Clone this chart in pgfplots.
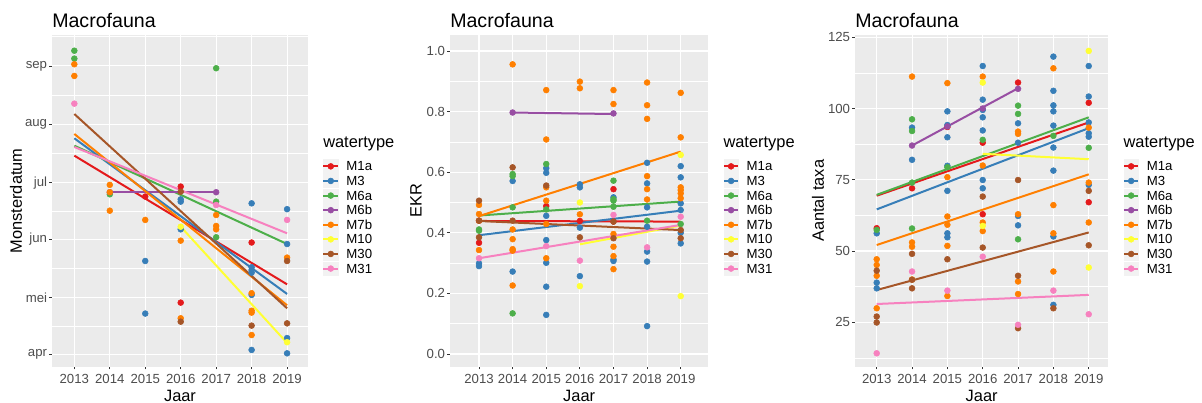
\documentclass[border=0pt]{standalone}
\usepackage{fontspec}
\setmainfont{Liberation Sans}
\usepackage{pgfplots}
\pgfplotsset{compat=1.18}
\definecolor{cMa}{HTML}{E41A1C}
\definecolor{cMb}{HTML}{377EB8}
\definecolor{cMc}{HTML}{4DAF4A}
\definecolor{cMd}{HTML}{984EA3}
\definecolor{cMe}{HTML}{FF7F00}
\definecolor{cMf}{HTML}{FFFF33}
\definecolor{cMg}{HTML}{A65628}
\definecolor{cMh}{HTML}{F781BF}
\definecolor{panelbg}{HTML}{EBEBEB}
\definecolor{keybg}{HTML}{F2F2F2}
\definecolor{ticklab}{HTML}{4D4D4D}
\definecolor{tickc}{HTML}{333333}
\pgfplotsset{
  legkey/.style={legend image code/.code={
      \fill[keybg] (0pt,-5pt) rectangle (10.95pt,5pt);
      \draw[#1, line width=1.5pt] (0pt,0pt) -- (10.95pt,0pt);
      \fill[#1] (5.475pt,0pt) circle (2.2pt);}},
  pts/.style={only marks, mark=*, mark size=2.2pt, color=#1, forget plot},
  fit/.style={no marks, line width=1.5pt, color=#1, forget plot},
  panel/.style={
    scale only axis, anchor=south west, height=248.8pt, clip=false,
    axis background/.style={fill=panelbg},
    axis line style={draw=none},
    tick align=outside, tick pos=left,
    major tick length=2pt, minor tick length=0pt,
    tick style={color=tickc, line width=0.6pt},
    xmajorgrids=true, ymajorgrids=true, yminorgrids=true,
    major grid style={white, line width=0.8pt},
    minor grid style={white, line width=0.4pt},
    xtick={2013,2014,2015,2016,2017,2018,2019},
    xticklabels={2013,2014,2015,2016,2017,2018,2019},
    tick label style={font=\fontsize{9.9}{11}\selectfont, text=ticklab},
    yticklabel style={inner xsep=1.5pt},
    title={Macrofauna},
    every axis title/.style={at={(axis description cs:0,1)}, anchor=base west, yshift=5.8pt, inner xsep=0pt, font=\fontsize{14.7}{17}\selectfont},
    xlabel={Jaar},
    every axis x label/.style={at={(axis description cs:0.5,-0.1045)}, anchor=base, font=\fontsize{12.3}{14}\selectfont},
    legend cell align=left,
    legend style={anchor=north west, draw=none, fill=none, inner sep=0pt, outer sep=0pt, row sep=0pt, column sep=0pt,
      font=\fontsize{9.9}{11}\selectfont,
      nodes={inner xsep=5.5pt, inner ysep=0pt, text height=8.9pt, text depth=2.05pt}},
  }
}
\newcommand\legendimages{%
  \addlegendimage{legkey=cMa}\addlegendentry{M1a}
  \addlegendimage{legkey=cMb}\addlegendentry{M3}
  \addlegendimage{legkey=cMc}\addlegendentry{M6a}
  \addlegendimage{legkey=cMd}\addlegendentry{M6b}
  \addlegendimage{legkey=cMe}\addlegendentry{M7b}
  \addlegendimage{legkey=cMf}\addlegendentry{M10}
  \addlegendimage{legkey=cMg}\addlegendentry{M30}
  \addlegendimage{legkey=cMh}\addlegendentry{M31}}
\begin{document}
\begin{tikzpicture}
\path[use as bounding box] (0,0) rectangle (901.5pt,302.25pt);
% ---------------- Panel 1: Monsterdatum
\begin{axis}[panel, at={(39pt,27.225pt)}, width=192pt,
  xmin=2012.37, xmax=2019.59, ymin=84.4, ymax=260.45,
  ytick={91,121,152,182,213,244}, yticklabels={apr,mei,jun,jul,aug,sep},
  minor ytick={106,136.5,167,197.5,228.5,259.5},
  ylabel={Monsterdatum},
  every axis y label/.style={at={(axis description cs:-0.1406,0.5)}, rotate=90, anchor=center, font=\fontsize{12.3}{14}\selectfont},
  legend style={at={(axis description cs:1.0566,0.6259)}}]
\legendimages
\addplot[pts=cMa] coordinates {(2015,174.7)(2016,180)(2016,118.4)(2018,150.3)};
\addplot[pts=cMb] coordinates {(2015,140.5)(2015,112.6)(2016,173.2)(2016,172)(2016,157.3)(2018,171.1)(2018,137.2)(2018,135.7)(2018,134.3)(2018,122.5)(2018,93.3)(2019,168)(2019,149.5)(2019,99.6)(2019,91.5)};
\addplot[pts=cMc] coordinates {(2013,252.1)(2013,247.9)(2014,175.9)(2017,242.8)(2017,172)(2017,153.1)};
\addplot[pts=cMd] coordinates {(2014,177)(2017,177)};
\addplot[pts=cMe] coordinates {(2013,244.9)(2013,238.7)(2014,180.9)(2014,177)(2014,167.2)(2015,162.3)(2016,151.3)(2016,110.1)(2017,164.9)(2017,159.1)(2017,157.3)(2018,123.4)(2018,114.1)(2018,113.1)(2018,101.2)(2019,142.3)};
\addplot[pts=cMf] coordinates {(2016,158.7)(2019,97.4)};
\addplot[pts=cMg] coordinates {(2016,177.3)(2016,108.3)(2018,106.2)(2019,140.5)(2019,107.4)};
\addplot[pts=cMh] coordinates {(2013,224)(2017,170.2)(2019,162.3)};
\addplot[fit=cMa] coordinates {(2013,196.4)(2019,128.1)};
\addplot[fit=cMb] coordinates {(2013,205.6)(2019,123)};
\addplot[fit=cMc] coordinates {(2013,201.7)(2019,149.5)};
\addplot[fit=cMd] coordinates {(2014,177)(2017,177)};
\addplot[fit=cMe] coordinates {(2013,207.9)(2019,117)};
\addplot[fit=cMf] coordinates {(2016,158.7)(2019,97)};
\addplot[fit=cMg] coordinates {(2013,218.5)(2019,115.4)};
\addplot[fit=cMh] coordinates {(2013,201)(2019,155.2)};
\node[anchor=base west, inner sep=0pt, font=\fontsize{12.3}{14}\selectfont] at (axis description cs:1.0586,0.6597) {watertype};
\end{axis}
% ---------------- Panel 2: EKR
\begin{axis}[panel, at={(337.5pt,27.225pt)}, width=193.7pt,
  xmin=2012.137, xmax=2019.82, ymin=-0.042, ymax=1.053,
  ytick={0,0.2,0.4,0.6,0.8,1}, yticklabels={0.0,0.2,0.4,0.6,0.8,1.0},
  minor ytick={0.1,0.3,0.5,0.7,0.9},
  ylabel={EKR},
  every axis y label/.style={at={(axis description cs:-0.132,0.5)}, rotate=90, anchor=center, font=\fontsize{12.3}{14}\selectfont},
  legend style={at={(axis description cs:1.0561,0.6259)}}]
\legendimages
\addplot[pts=cMa] coordinates {(2013,0.367)(2013,0.44)(2015,0.488)(2016,0.439)(2017,0.544)(2017,0.437)};
\addplot[pts=cMb] coordinates {(2013,0.299)(2013,0.29)(2014,0.571)(2014,0.272)(2015,0.613)(2015,0.598)(2015,0.456)(2015,0.376)(2015,0.301)(2015,0.222)(2015,0.129)(2016,0.56)(2016,0.55)(2016,0.417)(2016,0.257)(2017,0.517)(2017,0.312)(2017,0.307)(2018,0.631)(2018,0.563)(2018,0.484)(2018,0.42)(2018,0.338)(2018,0.305)(2018,0.092)(2019,0.62)(2019,0.583)(2019,0.497)(2019,0.475)(2019,0.4)(2019,0.365)};
\addplot[pts=cMc] coordinates {(2013,0.411)(2013,0.407)(2014,0.594)(2014,0.587)(2014,0.484)(2014,0.134)(2015,0.627)(2015,0.477)(2017,0.572)(2017,0.511)(2017,0.506)(2017,0.486)(2018,0.44)(2019,0.429)};
\addplot[pts=cMd] coordinates {(2014,0.797)(2017,0.794)};
\addplot[pts=cMe] coordinates {(2013,0.492)(2013,0.462)(2013,0.44)(2013,0.343)(2014,0.956)(2014,0.411)(2014,0.379)(2014,0.346)(2014,0.341)(2014,0.226)(2015,0.871)(2015,0.708)(2015,0.55)(2015,0.506)(2015,0.429)(2015,0.316)(2016,0.899)(2016,0.877)(2016,0.461)(2017,0.871)(2017,0.825)(2017,0.396)(2017,0.354)(2017,0.323)(2017,0.28)(2018,0.896)(2018,0.821)(2018,0.776)(2018,0.587)(2018,0.544)(2018,0.51)(2019,0.862)(2019,0.715)(2019,0.55)(2019,0.541)(2019,0.53)(2019,0.514)};
\addplot[pts=cMf] coordinates {(2016,0.5)(2016,0.224)(2019,0.657)(2019,0.191)};
\addplot[pts=cMg] coordinates {(2013,0.506)(2013,0.44)(2013,0.385)(2014,0.616)(2014,0.44)(2015,0.556)(2016,0.385)(2017,0.437)(2017,0.382)(2019,0.409)(2019,0.382)};
\addplot[pts=cMh] coordinates {(2013,0.316)(2015,0.356)(2016,0.308)(2017,0.459)(2018,0.352)(2019,0.453)};
\addplot[fit=cMa] coordinates {(2013,0.439)(2019,0.437)};
\addplot[fit=cMb] coordinates {(2013,0.392)(2019,0.473)};
\addplot[fit=cMc] coordinates {(2013,0.457)(2019,0.503)};
\addplot[fit=cMd] coordinates {(2014,0.797)(2017,0.792)};
\addplot[fit=cMe] coordinates {(2013,0.455)(2019,0.668)};
\addplot[fit=cMf] coordinates {(2016,0.362)(2019,0.424)};
\addplot[fit=cMg] coordinates {(2013,0.439)(2019,0.409)};
\addplot[fit=cMh] coordinates {(2013,0.316)(2019,0.426)};
\node[anchor=base west, inner sep=0pt, font=\fontsize{12.3}{14}\selectfont] at (axis description cs:1.058,0.6597) {watertype};
\end{axis}
% ---------------- Panel 3: Aantal taxa
\begin{axis}[panel, at={(641.25pt,27.225pt)}, width=190pt,
  xmin=2012.386, xmax=2019.555, ymin=9.4, ymax=125.8,
  ytick={25,50,75,100,125}, yticklabels={25,50,75,100,125},
  minor ytick={12.5,37.5,62.5,87.5,112.5},
  ylabel={Aantal taxa},
  every axis y label/.style={at={(axis description cs:-0.146,0.5)}, rotate=90, anchor=center, font=\fontsize{12.3}{14}\selectfont},
  legend style={at={(axis description cs:1.0572,0.6259)}}]
\legendimages
\addplot[pts=cMa] coordinates {(2013,58)(2014,72)(2015,93.5)(2016,88)(2016,62.9)(2017,109.1)(2019,102)(2019,67.1)};
\addplot[pts=cMb] coordinates {(2013,56.2)(2013,38.9)(2013,36.9)(2014,93.3)(2014,82)(2015,99)(2015,94.2)(2015,89.9)(2015,79.9)(2015,71.1)(2015,56.2)(2015,54.8)(2016,114.9)(2016,103.1)(2016,99.5)(2016,96.9)(2016,92.3)(2016,74.9)(2016,72)(2017,94.8)(2017,88)(2017,62.3)(2017,59)(2018,118.2)(2018,106.2)(2018,101.1)(2018,99)(2018,94)(2018,86.3)(2018,78.2)(2018,55.1)(2018,31.1)(2019,114.9)(2019,104.2)(2019,95.1)(2019,91.3)(2019,90.1)(2019,73.2)};
\addplot[pts=cMc] coordinates {(2013,57.4)(2014,96.2)(2014,92.1)(2014,74)(2014,57.9)(2015,79.4)(2016,89)(2017,101)(2017,98.1)(2017,54.1)(2018,90.4)(2019,86.2)};
\addplot[pts=cMd] coordinates {(2014,87)(2015,93.7)(2016,100)(2017,106.9)};
\addplot[pts=cMe] coordinates {(2013,47.1)(2013,45.1)(2013,41.3)(2013,29.9)(2014,111.2)(2014,53)(2014,51.5)(2014,40)(2015,108.9)(2015,75.9)(2015,62.1)(2015,59.2)(2015,51.8)(2015,34.2)(2016,111.2)(2016,80)(2016,60)(2016,57)(2017,91.9)(2017,91.1)(2017,62.9)(2017,39.3)(2017,34.9)(2018,114.1)(2018,66.1)(2018,56.2)(2018,42.8)(2019,93.3)(2019,74)(2019,60)};
\addplot[pts=cMf] coordinates {(2016,109.1)(2016,58.8)(2019,120.2)(2019,44.2)};
\addplot[pts=cMg] coordinates {(2013,43.1)(2013,27)(2013,24.9)(2014,49)(2014,39.9)(2014,36.9)(2015,47.1)(2016,69.1)(2016,51.2)(2017,74.9)(2017,41.3)(2017,22.9)(2018,29.9)(2019,71.1)(2019,52)};
\addplot[pts=cMh] coordinates {(2013,14.1)(2014,42.8)(2015,36.1)(2016,48)(2017,24.1)(2018,36.1)(2019,27.8)};
\addplot[fit=cMa] coordinates {(2013,69.4)(2019,95.1)};
\addplot[fit=cMb] coordinates {(2013,64.6)(2019,93.1)};
\addplot[fit=cMc] coordinates {(2013,69.7)(2019,96.9)};
\addplot[fit=cMd] coordinates {(2014,87)(2017,107.1)};
\addplot[fit=cMe] coordinates {(2013,52.1)(2019,76.9)};
\addplot[fit=cMf] coordinates {(2016,84.1)(2019,82.2)};
\addplot[fit=cMg] coordinates {(2013,36.3)(2019,56.5)};
\addplot[fit=cMh] coordinates {(2013,31.4)(2019,34.6)};
\node[anchor=base west, inner sep=0pt, font=\fontsize{12.3}{14}\selectfont] at (axis description cs:1.0593,0.6597) {watertype};
\end{axis}
\end{tikzpicture}
\end{document}
